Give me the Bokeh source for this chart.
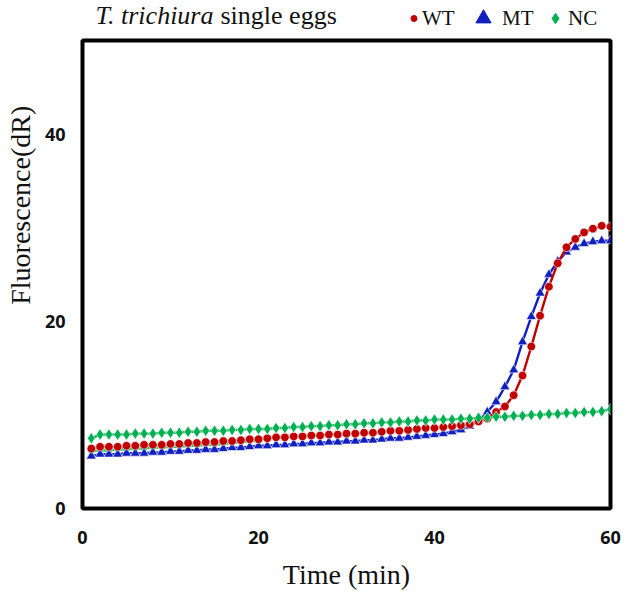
import math
from bokeh.plotting import figure
from bokeh.layouts import column, row
from bokeh.models import Range1d, Label, Legend, LegendItem, FixedTicker
from bokeh.embed import file_html
from bokeh.resources import INLINE

# ---- data ----
time_min = list(range(1, 61))

wt = [6.4, 6.6, 6.6, 6.6, 6.7, 6.7, 6.8, 6.8, 6.8, 6.9,
      6.9, 7.0, 7.0, 7.1, 7.1, 7.2, 7.2, 7.3, 7.4, 7.4,
      7.5, 7.6, 7.6, 7.7, 7.7, 7.8, 7.8, 7.9, 7.9, 8.0,
      8.0, 8.1, 8.1, 8.2, 8.3, 8.3, 8.4, 8.5, 8.6, 8.6,
      8.7, 8.8, 8.9, 9.0, 9.3, 9.6, 10.3, 10.9, 12.1, 14.2,
      17.3, 20.6, 23.7, 26.2, 27.9, 28.8, 29.5, 29.9, 30.2, 30.1]

mt = [5.6, 5.8, 5.8, 5.8, 5.9, 5.9, 5.9, 6.0, 6.0, 6.1,
      6.1, 6.2, 6.2, 6.3, 6.3, 6.4, 6.5, 6.5, 6.6, 6.7,
      6.7, 6.8, 6.8, 6.9, 6.9, 7.0, 7.0, 7.1, 7.1, 7.2,
      7.2, 7.3, 7.3, 7.4, 7.5, 7.5, 7.6, 7.7, 7.8, 7.9,
      8.0, 8.2, 8.4, 8.8, 9.4, 10.3, 11.4, 13.0, 14.8, 17.8,
      20.5, 23.0, 25.0, 26.4, 27.4, 27.9, 28.3, 28.5, 28.6, 28.6]

nc = [7.5, 7.9, 7.9, 7.9, 7.9, 8.0, 8.0, 8.0, 8.1, 8.1,
      8.1, 8.2, 8.2, 8.3, 8.3, 8.3, 8.4, 8.4, 8.5, 8.5,
      8.5, 8.6, 8.6, 8.7, 8.7, 8.8, 8.8, 8.9, 8.9, 9.0,
      9.0, 9.1, 9.1, 9.2, 9.2, 9.3, 9.3, 9.4, 9.4, 9.5,
      9.5, 9.5, 9.6, 9.6, 9.7, 9.7, 9.8, 9.8, 9.9, 9.9,
      10.0, 10.0, 10.1, 10.1, 10.2, 10.2, 10.3, 10.3, 10.4, 10.6]

# second negative-control trace, visible only at the start
nc2_time = list(range(1, 21))
nc2 = [6.1, 6.2, 6.2, 6.3, 6.3, 6.4, 6.4, 6.5, 6.5, 6.6,
       6.6, 6.7, 6.7, 6.8, 6.8, 6.9, 7.0, 7.1, 7.2, 7.3]

series_labels = ["WT", "MT", "NC"]
x_ticks = [0, 20, 40, 60]
y_ticks = [0, 20, 40]

RED = "#C00000"
BLUE = "#1020C0"
GREEN = "#00B050"
TXT = "#111111"
SERIF = "Liberation Serif"


def bare(fig):
    fig.grid.visible = False
    fig.axis.visible = False
    fig.outline_line_color = None
    fig.background_fill_color = "white"
    fig.border_fill_color = "white"
    return fig


# ---------- header: title + legend ----------
HW, HH = 625, 38
header = bare(figure(width=HW, height=HH, output_backend="svg", toolbar_location=None,
                     x_range=Range1d(0, HW), y_range=Range1d(0, HH),
                     min_border=0, min_border_left=0, min_border_right=0,
                     min_border_top=0, min_border_bottom=0))
header.add_layout(Label(x=95, y=23, text="T. trichiura", text_font=SERIF,
                        text_font_style="italic", text_font_size="26px",
                        text_baseline="middle", text_align="left", text_color=TXT))
header.add_layout(Label(x=220, y=23, text="single eggs", text_font=SERIF,
                        text_font_size="26px", text_baseline="middle",
                        text_align="left", text_color=TXT))

# legend keys: the series themselves, drawn on a range that lies off the header
header.extra_y_ranges = {"off": Range1d(1000, 1001)}
key_wt = header.scatter(time_min, wt, y_range_name="off", marker="circle",
                        fill_color=RED, line_color=RED)
key_mt = header.scatter(time_min, mt, y_range_name="off", marker="triangle",
                        fill_color=BLUE, line_color=BLUE)
key_nc = header.scatter(time_min, nc, y_range_name="off", marker="diamond",
                        fill_color=GREEN, line_color=GREEN)


def make_legend(fig, label, renderer, gw, gh, loc, standoff):
    lg = Legend(items=[LegendItem(label=label, renderers=[renderer], index=0)],
                location=loc, orientation="horizontal",
                glyph_width=gw, glyph_height=gh, label_height=gh,
                label_standoff=standoff, padding=0, margin=0, spacing=0,
                border_line_color=None, background_fill_alpha=0,
                label_text_font=SERIF, label_text_font_size="21px",
                label_text_color=TXT)
    fig.add_layout(lg, "center")


make_legend(header, series_labels[0], key_wt, 15, 28, (406, 6), 1)
make_legend(header, series_labels[1], key_mt, 38, 38, (464, 1), 0)
make_legend(header, series_labels[2], key_nc, 26, 28, (542, 6), 0)

# ---------- left strip: y axis title ----------
LW, MH = 38, 554
left = bare(figure(width=LW, height=MH, output_backend="svg", toolbar_location=None,
                   x_range=Range1d(0, LW), y_range=Range1d(0, MH),
                   min_border=0, min_border_left=0, min_border_right=0,
                   min_border_top=0, min_border_bottom=0))
left.add_layout(Label(x=20, y=359, text="Fluorescence(dR)", angle=math.pi / 2,
                      text_font=SERIF, text_font_size="28px",
                      text_align="center", text_baseline="middle", text_color=TXT))

# ---------- main plot ----------
MW = HW - LW
p = figure(width=MW, height=MH, output_backend="svg", toolbar_location=None,
           x_range=Range1d(0, 60), y_range=Range1d(0, 50),
           min_border_left=44, min_border_right=15, min_border_top=2,
           min_border_bottom=79)
p.grid.visible = False
p.outline_line_color = "black"
p.outline_line_width = 4
p.background_fill_color = "white"
p.border_fill_color = "white"

for ax in (p.xaxis[0], p.yaxis[0]):
    ax.axis_line_color = None
    ax.major_tick_line_color = None
    ax.minor_tick_line_color = None
    ax.major_tick_out = 0
    ax.major_tick_in = 0
    ax.minor_tick_out = 0
    ax.minor_tick_in = 0
    ax.major_label_text_font = "Open Sans"
    ax.major_label_text_font_style = "bold"
    ax.major_label_text_font_size = "18px"
    ax.major_label_text_color = TXT
p.xaxis.ticker = FixedTicker(ticks=x_ticks)
p.yaxis.ticker = FixedTicker(ticks=y_ticks)
p.xaxis.major_label_standoff = 22
p.yaxis.major_label_standoff = 17
p.xaxis.axis_label = "Time (min)"
p.xaxis.axis_label_text_font = SERIF
p.xaxis.axis_label_text_font_style = "normal"
p.xaxis.axis_label_text_font_size = "28px"
p.xaxis.axis_label_text_color = TXT
p.xaxis.axis_label_standoff = 12

LWID = 2.4
p.line(nc2_time, nc2, line_color=GREEN, line_width=LWID)
p.scatter(nc2_time, nc2, marker="diamond", size=11, fill_color=GREEN,
          line_color="white", line_width=0.6)
p.line(time_min, mt, line_color=BLUE, line_width=LWID)
p.scatter(time_min, mt, marker="triangle", size=10, fill_color=BLUE,
          line_color="white", line_width=0.6)
p.line(time_min, wt, line_color=RED, line_width=LWID)
p.scatter(time_min, wt, marker="circle", size=8.5, fill_color=RED,
          line_color="white", line_width=0.6)
p.line(time_min, nc, line_color=GREEN, line_width=LWID)
p.scatter(time_min, nc, marker="diamond", size=11.5, fill_color=GREEN,
          line_color="white", line_width=0.6)

layout = column(header, row(left, p, spacing=0), spacing=0)

open("out.html", "w").write(file_html(layout, INLINE))
